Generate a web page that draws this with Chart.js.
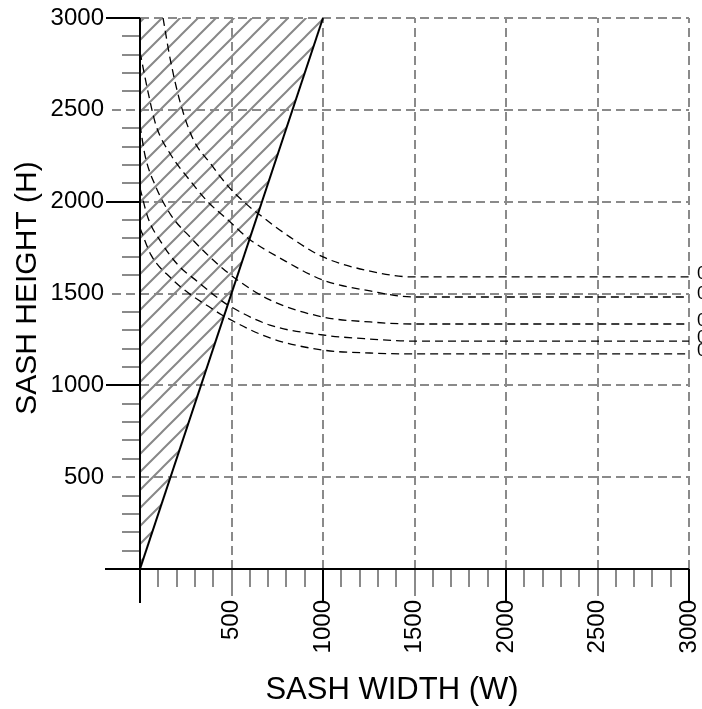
<!DOCTYPE html>
<html>
<head>
<meta charset="utf-8">
<script src="https://cdn.jsdelivr.net/npm/chart.js@4.4.1/dist/chart.umd.min.js"></script>
<style>
html, body { margin: 0; padding: 0; background: #fff; }
canvas { display: block; }
</style>
</head>
<body>
<canvas id="myChart" width="702" height="709"></canvas>
<script>
// axis ticks
const majorTicks = [500, 1000, 1500, 2000, 2500, 3000];
const tickLabels = ['500', '1000', '1500', '2000', '2500', '3000'];
const xTitle = 'SASH WIDTH (W)';
const yTitle = 'SASH HEIGHT (H)';

// limit line H = 3W (hatched side is not allowed)
const limitW = [0, 1000];
const limitH = [0, 3000];

// dashed curves, top to bottom
const curve1W = [126, 164, 219, 290, 383, 481, 574, 656, 820, 1000, 1257, 1492, 3000];
const curve1H = [3000, 2782, 2543, 2341, 2210, 2085, 1993, 1927, 1807, 1699, 1622, 1590, 1590];

const curve2W = [0, 44, 87, 169, 262, 372, 481, 596, 765, 1000, 1257, 1492, 3000];
const curve2H = [2815, 2597, 2417, 2254, 2129, 1998, 1900, 1797, 1693, 1573, 1514, 1481, 1481];

const curve3W = [0, 27, 82, 169, 279, 388, 525, 710, 1000, 1257, 1492, 3000];
const curve3H = [2417, 2254, 2091, 1927, 1802, 1693, 1579, 1465, 1372, 1345, 1334, 1334];

const curve4W = [0, 44, 115, 208, 317, 426, 481, 710, 1000, 1257, 1492, 3000];
const curve4H = [2074, 1911, 1780, 1655, 1563, 1475, 1437, 1328, 1274, 1252, 1241, 1241];

const curve5W = [0, 60, 169, 279, 388, 448, 710, 1000, 1257, 1492, 3000];
const curve5H = [1857, 1710, 1584, 1492, 1421, 1383, 1258, 1192, 1176, 1171, 1171];

const curveEndLabels = ['0', '0', '0', '0', '0'];

const toPoints = (xs, ys) => xs.map((v, i) => ({x: v, y: ys[i]}));

// hatch pattern
const tile = document.createElement('canvas');
tile.width = 18; tile.height = 18;
const t = tile.getContext('2d');
t.strokeStyle = '#888';
t.lineWidth = 2;
t.beginPath();
t.moveTo(-2, 20); t.lineTo(20, -2);
t.moveTo(-2, 2); t.lineTo(2, -2);
t.moveTo(16, 20); t.lineTo(20, 16);
t.stroke();
const ctxMain = document.getElementById('myChart').getContext('2d');
const hatch = ctxMain.createPattern(tile, 'repeat');

const curves = [[curve1W, curve1H], [curve2W, curve2H], [curve3W, curve3H], [curve4W, curve4H], [curve5W, curve5H]];
const curveSets = curves.map(c => ({
    data: toPoints(c[0], c[1]),
    showLine: true,
    borderColor: '#000',
    borderWidth: 1.3,
    borderDash: [8, 5],
    pointRadius: 0,
    fill: false,
    cubicInterpolationMode: 'monotone'
}));

const grey = '#8a8a8a';
const fontFamily = '"Liberation Sans", Arial, sans-serif';

const axesPlugin = {
    id: 'sashAxes',
    beforeDatasetsDraw(chart) {
        const {ctx, chartArea: a, scales: {x, y}} = chart;
        ctx.save();
        ctx.strokeStyle = grey;
        ctx.lineWidth = 2;
        ctx.setLineDash([9, 5]);
        for (const v of majorTicks) {
            const px = Math.round(x.getPixelForValue(v));
            ctx.beginPath(); ctx.moveTo(px, a.bottom); ctx.lineTo(px, a.top); ctx.stroke();
            const py = Math.round(y.getPixelForValue(v));
            ctx.beginPath(); ctx.moveTo(v % 1000 ? a.left - 28 : a.left, py); ctx.lineTo(a.right, py); ctx.stroke();
        }
        ctx.restore();
    },
    afterDatasetsDraw(chart) {
        const {ctx, chartArea: a, scales: {x, y}} = chart;
        ctx.save();
        ctx.lineWidth = 2;
        // minor ticks every 100
        ctx.strokeStyle = grey;
        for (let v = 100; v < 3000; v += 100) {
            if (v % 500 === 0) continue;
            const px = Math.round(x.getPixelForValue(v));
            ctx.beginPath(); ctx.moveTo(px, a.bottom); ctx.lineTo(px, a.bottom + 18); ctx.stroke();
            const py = Math.round(y.getPixelForValue(v));
            ctx.beginPath(); ctx.moveTo(a.left, py); ctx.lineTo(a.left - 18, py); ctx.stroke();
        }
        // major ticks
        for (const v of majorTicks) {
            const px = Math.round(x.getPixelForValue(v));
            const py = Math.round(y.getPixelForValue(v));
            if (v % 1000) {
                ctx.strokeStyle = grey;
                ctx.beginPath(); ctx.moveTo(px, a.bottom); ctx.lineTo(px, a.bottom + 27); ctx.stroke();
            } else {
                ctx.strokeStyle = '#000';
                ctx.beginPath(); ctx.moveTo(px, a.bottom); ctx.lineTo(px, a.bottom + 34); ctx.stroke();
                ctx.beginPath(); ctx.moveTo(a.left, py); ctx.lineTo(a.left - 34, py); ctx.stroke();
            }
        }
        // axis lines
        ctx.strokeStyle = '#000';
        ctx.beginPath();
        ctx.moveTo(a.left - 35, a.bottom); ctx.lineTo(a.right, a.bottom);
        ctx.moveTo(a.left, a.top); ctx.lineTo(a.left, a.bottom + 34);
        ctx.stroke();
        // labels at the right end of the curves (cut by the page edge)
        ctx.fillStyle = '#000';
        ctx.font = '18px ' + fontFamily;
        ctx.textBaseline = 'middle';
        curves.forEach((c, i) => {
            const py = y.getPixelForValue(c[1][c[1].length - 1]);
            ctx.fillText(curveEndLabels[i], a.right + 8, py - 3);
        });
        // axis titles
        ctx.textAlign = 'center';
        ctx.font = '31px ' + fontFamily;
        ctx.fillText(xTitle, a.left + 252, a.bottom + 121);
        ctx.translate(28, a.top + 270);
        ctx.rotate(-Math.PI / 2);
        ctx.font = '30px ' + fontFamily;
        ctx.fillText(yTitle, 0, 0);
        ctx.restore();
    }
};

const tickFont = {family: fontFamily, size: 24};
const labelFor = v => {
    const i = majorTicks.indexOf(v);
    return i < 0 ? '' : tickLabels[i];
};

new Chart('myChart', {
    type: 'scatter',
    data: {
        datasets: [
            {
                data: toPoints(limitW, limitH),
                showLine: true,
                borderColor: '#000',
                borderWidth: 2,
                pointRadius: 0,
                fill: false
            },
            ...curveSets,
            {
                data: toPoints(limitW, limitH),
                showLine: true,
                borderWidth: 0,
                borderColor: 'rgba(0,0,0,0)',
                backgroundColor: hatch,
                pointRadius: 0,
                fill: 'end'
            }
        ]
    },
    options: {
        responsive: false,
        animation: false,
        layout: {padding: {left: 0, top: 18, right: 13, bottom: 0}},
        plugins: {legend: {display: false}, tooltip: {enabled: false}},
        scales: {
            x: {
                type: 'linear', min: 0, max: 3000,
                grid: {display: false, drawTicks: false},
                border: {display: false},
                ticks: {
                    stepSize: 500, autoSkip: false, minRotation: 90, maxRotation: 90,
                    padding: 31, color: '#000', font: tickFont, callback: labelFor
                },
                afterFit(s) { s.height = 140; s.paddingLeft = 0; s.paddingRight = 0; }
            },
            y: {
                type: 'linear', min: 0, max: 3000,
                grid: {display: false, drawTicks: false},
                border: {display: false},
                ticks: {stepSize: 500, autoSkip: false, padding: 36, color: '#000', font: tickFont, callback: labelFor},
                afterFit(s) { s.width = 140; s.paddingTop = 0; s.paddingBottom = 0; }
            }
        }
    },
    plugins: [axesPlugin]
});
</script>
</body>
</html>
